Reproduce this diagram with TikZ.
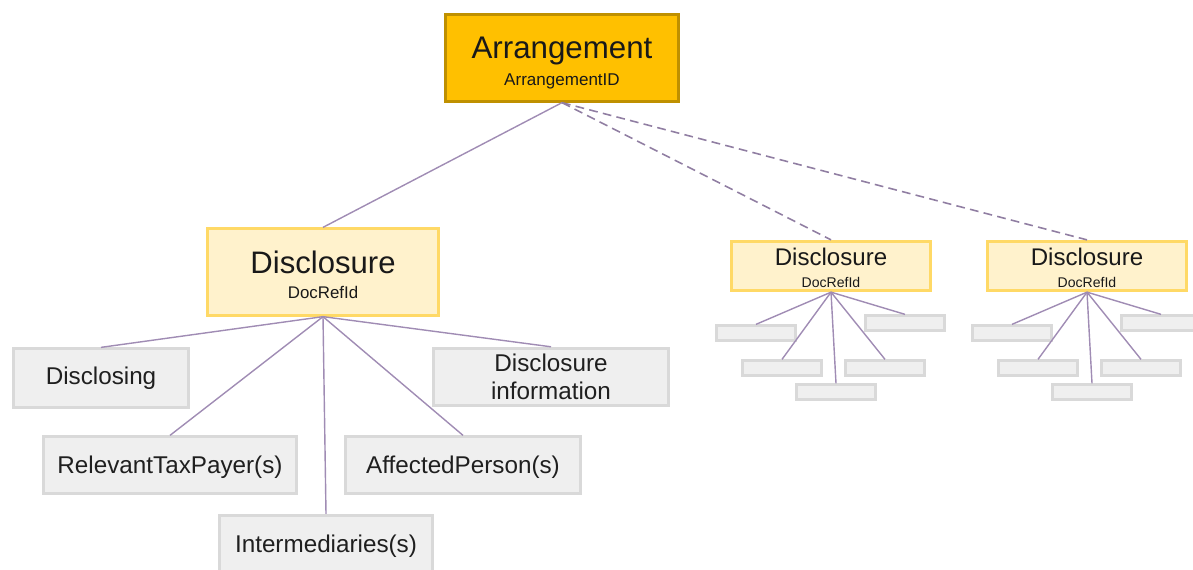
\documentclass[tikz,border=0pt]{standalone}
\usepackage{fontspec}
\setmainfont{Liberation Sans}
\usepackage{tikz}
\usetikzlibrary{arrows}
\definecolor{arrfill}{HTML}{FFC000}
\definecolor{arrline}{HTML}{BF9000}
\definecolor{discfill}{HTML}{FFF2CC}
\definecolor{discline}{HTML}{FFD966}
\definecolor{boxfill}{HTML}{EFEFEF}
\definecolor{boxline}{HTML}{D9D9D9}
\definecolor{linkcol}{HTML}{A08CB4}
\tikzstyle{arrbox} = [draw=arrline, fill=arrfill, line width=1.6pt, minimum width=4.65cm, minimum height=1.73cm, align=center, text=black!90, inner sep=0pt]
\tikzstyle{discbox} = [draw=discline, fill=discfill, line width=1.6pt, minimum width=4.63cm, minimum height=1.73cm, align=center, text=black!90, inner sep=0pt]
\tikzstyle{smalldisc} = [draw=discline, fill=discfill, line width=1.6pt, minimum width=3.99cm, minimum height=0.99cm, align=center, text=black!90, inner sep=0pt]
\tikzstyle{itembox} = [draw=boxline, fill=boxfill, line width=1.6pt, align=center, text=black!88, font=\fontsize{13.8}{16}\selectfont]
\tikzstyle{blank} = [draw=boxline, fill=boxfill, line width=1.6pt, minimum width=1.59cm, minimum height=0.29cm, inner sep=0pt]
\tikzstyle{link} = [draw=linkcol, line width=0.8pt]
\tikzstyle{dashlink} = [draw=linkcol!90!black, line width=0.9pt, dash pattern=on 5pt off 3pt]

\begin{document}
\begin{tikzpicture}[x=0.02cm, y=-0.02cm]
		\useasboundingbox (0,0) rectangle (1193,569);
		\clip (0,0) rectangle (1193,569);
		% top
		\node[arrbox] (arr) at (562,58) {\rule{0pt}{18pt}{\fontsize{17.8}{20}\selectfont Arrangement}\\[3pt]{\fontsize{9.7}{11}\selectfont ArrangementID}};
		\node[discbox] (disc) at (323,272) {\rule{0pt}{16pt}{\fontsize{17.7}{20}\selectfont Disclosure}\\[2pt]{\fontsize{9.6}{11}\selectfont DocRefId}};
		\node[smalldisc] (discb) at (831,266) {\rule{0pt}{12pt}{\fontsize{13.7}{15}\selectfont Disclosure}\\[0pt]{\fontsize{8}{9}\selectfont DocRefId}};
		\node[smalldisc] (discc) at (1087,266) {\rule{0pt}{12pt}{\fontsize{13.7}{15}\selectfont Disclosure}\\[0pt]{\fontsize{8}{9}\selectfont DocRefId}};
		\draw [link] (arr.south) -- (disc.north);
		\draw [dashlink] (arr.south) -- (discb.north);
		\draw [dashlink] (arr.south) -- (discc.north);
		% children of the first disclosure
		\node[itembox, minimum width=3.51cm, minimum height=1.17cm] (disclosing) at (101,378) {Disclosing};
		\node[itembox, minimum width=4.69cm, minimum height=1.15cm] (info) at (551,377) {Disclosure\\information};
		\node[itembox, minimum width=5.07cm, minimum height=1.13cm] (taxpayer) at (170,465) {\rule{0pt}{12.5pt}RelevantTaxPayer(s)};
		\node[itembox, minimum width=4.69cm, minimum height=1.13cm] (affected) at (463,465) {\rule{0pt}{12.5pt}AffectedPerson(s)};
		\node[itembox, minimum width=4.25cm, minimum height=1.15cm] (intermed) at (326,544) {\rule{0pt}{12.5pt}Intermediaries(s)};
		\draw [link] (disc.south) -- (disclosing.north);
		\draw [link] (disc.south) -- (info.north);
		\draw [link] (disc.south) -- (taxpayer.north);
		\draw [link] (disc.south) -- (affected.north);
		\draw [link] (disc.south) -- (intermed.north);
		% blank children of the other two
		\node[blank] (b1) at (756,333) {};
		\node[blank] (b2) at (782,368) {};
		\node[blank] (b3) at (836,392) {};
		\node[blank] (b4) at (885,368) {};
		\node[blank] (b5) at (905,323) {};
		\node[blank] (c1) at (1012,333) {};
		\node[blank] (c2) at (1038,368) {};
		\node[blank] (c3) at (1092,392) {};
		\node[blank] (c4) at (1141,368) {};
		\node[blank] (c5) at (1161,323) {};
		\draw [link] (discb.south) -- (b1.north);
		\draw [link] (discb.south) -- (b2.north);
		\draw [link] (discb.south) -- (b3.north);
		\draw [link] (discb.south) -- (b4.north);
		\draw [link] (discb.south) -- (b5.north);
		\draw [link] (discc.south) -- (c1.north);
		\draw [link] (discc.south) -- (c2.north);
		\draw [link] (discc.south) -- (c3.north);
		\draw [link] (discc.south) -- (c4.north);
		\draw [link] (discc.south) -- (c5.north);
	\end{tikzpicture}
\end{document}
